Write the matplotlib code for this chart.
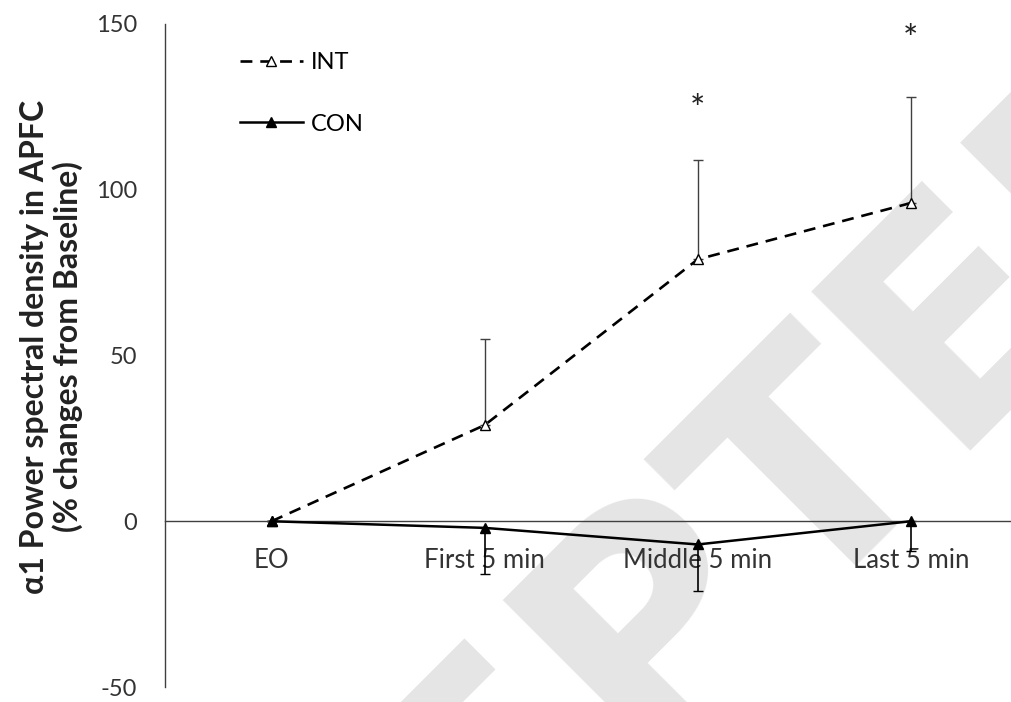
import matplotlib
matplotlib.use("Agg")
import matplotlib.pyplot as plt
import numpy as np

plt.rcParams['font.family'] = ['Lato', 'DejaVu Sans']
plt.rcParams['axes.unicode_minus'] = False

# data
phases = ["EO", "First 5 min", "Middle 5 min", "Last 5 min"]
int_mean = [0, 29, 79, 96]
int_err_up = [0, 26, 30, 32]
con_mean = [0, -2, -7, 0]
con_err_down = [0, 14, 14, 9]
star_phase = [2, 3]
star_y = [124, 145]

x = np.arange(len(phases))
dark = "#404040"

fig = plt.figure(figsize=(10.11, 7.02), dpi=100)
ax = fig.add_axes([165 / 1011, 1 - 687 / 702, (1011 - 165) / 1011, (687 - 24) / 702])
ax.patch.set_alpha(0)

# watermark behind everything (anchored at the baseline start of the word)
fig.text(5 / 1011, 1 - 1415 / 702, "ACCEPTED", fontsize=222, fontweight="bold",
         family="DejaVu Sans", color="#e5e5e5", rotation=45,
         rotation_mode="anchor", ha="left", va="baseline", zorder=-5)

# INT: dashed, open triangles, upward error bars
ax.errorbar(x, int_mean, yerr=[np.zeros(len(x)), int_err_up], fmt="none",
            ecolor=dark, elinewidth=1.0, capsize=3.5, capthick=1.0, zorder=2)
l_int, = ax.plot(x, int_mean, color="black", lw=1.9, dashes=(4.5, 3),
                 marker="^", markersize=7, markerfacecolor="white",
                 markeredgecolor="black", markeredgewidth=1.0, label="INT", zorder=3)

# CON: solid, filled triangles, downward error bars
ax.errorbar(x, con_mean, yerr=[con_err_down, np.zeros(len(x))], fmt="none",
            ecolor="black", elinewidth=1.2, capsize=3.5, capthick=1.0, zorder=2)
l_con, = ax.plot(x, con_mean, color="black", lw=1.8, marker="^", markersize=7.5,
                 markerfacecolor="black", markeredgecolor="black", label="CON", zorder=3)

for p, s in zip(star_phase, star_y):
    ax.text(p, s, "*", fontsize=26, ha="center", va="center", color="#222222")

ax.set_xlim(-0.5, 3.47)
ax.set_ylim(-50, 150)
ax.set_yticks([-50, 0, 50, 100, 150])
ax.set_xticks(x)
ax.set_xticklabels(phases)

for s in ["top", "right"]:
    ax.spines[s].set_visible(False)
ax.spines["bottom"].set_position(("data", 0))
ax.spines["bottom"].set_color(dark)
ax.spines["left"].set_color(dark)
ax.spines["bottom"].set_linewidth(1.0)
ax.spines["left"].set_linewidth(1.0)
ax.tick_params(axis="both", length=0, colors="#333333")
ax.tick_params(axis="y", pad=20, labelsize=17)
ax.tick_params(axis="x", pad=19, labelsize=18.5)

fig.text(51.5 / 1011, 1 - 347 / 702,
         "\u03b11 Power spectral density in APFC\n(% changes from Baseline)",
         rotation=90, ha="center", va="center", multialignment="center",
         fontsize=23, fontweight="bold", color="#222222", linespacing=1.15)

ax.legend(handles=[l_int, l_con], loc="upper left",
          bbox_to_anchor=(240 / 1011, 1 - 52 / 702), bbox_transform=fig.transFigure,
          frameon=False, fontsize=17, handlelength=2.65, handletextpad=0.35,
          labelspacing=1.72, borderpad=0, borderaxespad=0, numpoints=1)

fig.savefig("out.png", dpi=100)
